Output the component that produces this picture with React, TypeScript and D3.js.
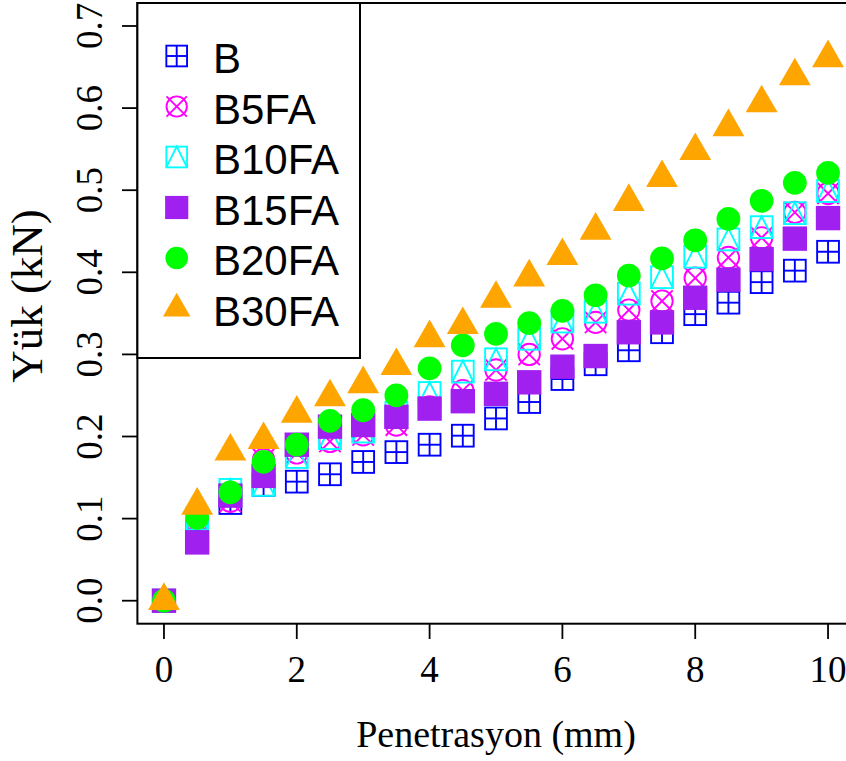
import React from 'react';
import * as d3 from 'd3';

const xValues = [0, 0.5, 1, 1.5, 2, 2.5, 3, 3.5, 4, 4.5, 5, 5.5, 6, 6.5, 7, 7.5, 8, 8.5, 9, 9.5, 10];
const loadB = [0, 0.085, 0.119, 0.141, 0.145, 0.154, 0.169, 0.181, 0.19, 0.201, 0.222, 0.242, 0.27, 0.288, 0.305, 0.327, 0.349, 0.363, 0.388, 0.402, 0.425];
const loadB5FA = [0, 0.078, 0.121, 0.172, 0.18, 0.194, 0.202, 0.214, 0.236, 0.256, 0.281, 0.3, 0.319, 0.339, 0.354, 0.365, 0.393, 0.418, 0.442, 0.473, 0.496];
const loadB10FA = [0, 0.1, 0.135, 0.141, 0.175, 0.198, 0.206, 0.229, 0.253, 0.279, 0.294, 0.319, 0.34, 0.352, 0.374, 0.394, 0.419, 0.44, 0.455, 0.472, 0.499];
const loadB15FA = [0, 0.071, 0.128, 0.152, 0.19, 0.212, 0.214, 0.224, 0.234, 0.243, 0.252, 0.266, 0.285, 0.298, 0.327, 0.339, 0.369, 0.391, 0.416, 0.441, 0.466];
const loadB20FA = [0, 0.101, 0.132, 0.169, 0.19, 0.219, 0.232, 0.25, 0.283, 0.311, 0.325, 0.338, 0.353, 0.372, 0.396, 0.417, 0.439, 0.465, 0.487, 0.509, 0.521];
const loadB30FA = [0, 0.116, 0.182, 0.196, 0.228, 0.248, 0.264, 0.286, 0.32, 0.336, 0.368, 0.394, 0.42, 0.451, 0.486, 0.515, 0.548, 0.577, 0.606, 0.639, 0.661];

const seriesNames = ['B', 'B5FA', 'B10FA', 'B15FA', 'B20FA', 'B30FA'];
const seriesValues = [loadB, loadB5FA, loadB10FA, loadB15FA, loadB20FA, loadB30FA];
const seriesColors = ['#0000FF', '#FF00FF', '#00FFFF', '#A020F0', '#00FF00', '#FFA500'];
const seriesShapes = ['squarePlus', 'circleCross', 'squareTriangle', 'filledSquare', 'filledCircle', 'filledTriangle'];

const xTicks = [0, 2, 4, 6, 8, 10];
const xTickLabels = ['0', '2', '4', '6', '8', '10'];
const yTicks = [0, 0.1, 0.2, 0.3, 0.4, 0.5, 0.6, 0.7];
const yTickLabels = ['0.0', '0.1', '0.2', '0.3', '0.4', '0.5', '0.6', '0.7'];

const xTitle = 'Penetrasyon (mm)';
const yTitle = 'Yük (kN)';

const W = 846;
const H = 761;
const plotLeft = 137.4;
const plotRight = 854.6;
const plotTop = 3;
const plotBottom = 623.7;

const serif = '"Liberation Serif", "Times New Roman", Times, serif';
const sans = '"Liberation Sans", Arial, Helvetica, sans-serif';

function Marker({ shape, color, x, y, s = 1 }: { shape: string; color: string; x: number; y: number; s?: number }) {
  const sw = 1.9;
  const h = 10.9 * s;
  if (shape === 'squarePlus') {
    return (
      <g transform={`translate(${x},${y})`} stroke={color} strokeWidth={sw} fill="none">
        <rect x={-h} y={-h} width={2 * h} height={2 * h} />
        <line x1={-h} y1={0} x2={h} y2={0} />
        <line x1={0} y1={-h} x2={0} y2={h} />
      </g>
    );
  }
  if (shape === 'circleCross') {
    const r = 10.7 * s;
    return (
      <g transform={`translate(${x},${y})`} stroke={color} strokeWidth={sw} fill="none">
        <circle r={r} />
        <line x1={-r} y1={-r} x2={r} y2={r} />
        <line x1={-r} y1={r} x2={r} y2={-r} />
      </g>
    );
  }
  if (shape === 'squareTriangle') {
    return (
      <g transform={`translate(${x},${y})`} stroke={color} strokeWidth={sw} fill="none">
        <rect x={-h} y={-h} width={2 * h} height={2 * h} />
        <path d={`M${-h},${h}L0,${-h}L${h},${h}`} />
      </g>
    );
  }
  if (shape === 'filledSquare') {
    const f = 12.2 * s;
    return <rect x={x - f} y={y - f} width={2 * f} height={2 * f} fill={color} />;
  }
  if (shape === 'filledCircle') {
    return <circle cx={x} cy={y} r={11.9 * s} fill={color} />;
  }
  const r = 18.4 * s;
  const hx = r * Math.sqrt(3) / 2;
  return <path d={`M${x},${y - r}L${x + hx},${y + r / 2}L${x - hx},${y + r / 2}Z`} fill={color} />;
}

export default function App() {
  const xScale = d3.scaleLinear().domain([-0.4, 10.4]).range([plotLeft, plotRight]);
  const yScale = d3.scaleLinear().domain([-0.028, 0.728]).range([plotBottom, plotTop]);

  const legendX = 176.7;
  const legendY0 = 56;
  const legendStep = 50.5;

  return (
    <svg
      width={W}
      height={H}
      viewBox={`0 0 ${W} ${H}`}
      style={{ position: 'absolute', left: 0, top: 0, background: '#fff' }}
    >
      <defs>
        <clipPath id="plotClip">
          <rect x={plotLeft} y={plotTop} width={plotRight - plotLeft} height={plotBottom - plotTop} />
        </clipPath>
      </defs>
      <rect x={0} y={0} width={W} height={H} fill="#fff" />

      <g clipPath="url(#plotClip)">
        {seriesValues.map((vals, si) => (
          <g key={seriesNames[si]}>
            {vals.map((v, i) => (
              <Marker
                key={i}
                shape={seriesShapes[si]}
                color={seriesColors[si]}
                x={xScale(xValues[i])}
                y={yScale(v)}
              />
            ))}
          </g>
        ))}
      </g>

      {/* plot box */}
      <rect
        x={plotLeft}
        y={plotTop}
        width={plotRight - plotLeft}
        height={plotBottom - plotTop}
        fill="none"
        stroke="#000"
        strokeWidth={2}
      />

      {/* x axis */}
      {xTicks.map((t, i) => (
        <g key={`xt${i}`}>
          <line x1={xScale(t)} x2={xScale(t)} y1={plotBottom} y2={639} stroke="#000" strokeWidth={1.8} />
          <text
            x={xScale(t)}
            y={682}
            textAnchor="middle"
            fontFamily={serif}
            fontSize={37}
            fill="#000"
          >
            {xTickLabels[i]}
          </text>
        </g>
      ))}

      {/* y axis */}
      {yTicks.map((t, i) => (
        <g key={`yt${i}`}>
          <line x1={122} x2={plotLeft} y1={yScale(t)} y2={yScale(t)} stroke="#000" strokeWidth={1.8} />
          <text
            transform={`translate(102,${yScale(t)}) rotate(-90)`}
            textAnchor="middle"
            fontFamily={serif}
            fontSize={37}
            fill="#000"
          >
            {yTickLabels[i]}
          </text>
        </g>
      ))}

      <text
        x={(plotLeft + plotRight) / 2}
        y={747}
        textAnchor="middle"
        fontFamily={serif}
        fontSize={38}
        fill="#000"
      >
        {xTitle}
      </text>
      <text
        transform={`translate(42,296) rotate(-90)`}
        textAnchor="middle"
        fontFamily={serif}
        fontSize={45}
        fill="#000"
      >
        {yTitle}
      </text>

      {/* legend */}
      <rect x={plotLeft} y={plotTop} width={360 - plotLeft} height={358 - plotTop} fill="#fff" stroke="#000" strokeWidth={2} />
      {seriesNames.map((name, i) => (
        <g key={`lg${i}`}>
          <Marker
            shape={seriesShapes[i]}
            color={seriesColors[i]}
            x={legendX}
            y={legendY0 + i * legendStep}
            s={seriesShapes[i] === 'filledTriangle' ? 0.86 : 0.95}
          />
          <text x={213} y={legendY0 + i * legendStep + 17} fontFamily={sans} fontSize={42} fill="#000">
            {name}
          </text>
        </g>
      ))}
    </svg>
  );
}
